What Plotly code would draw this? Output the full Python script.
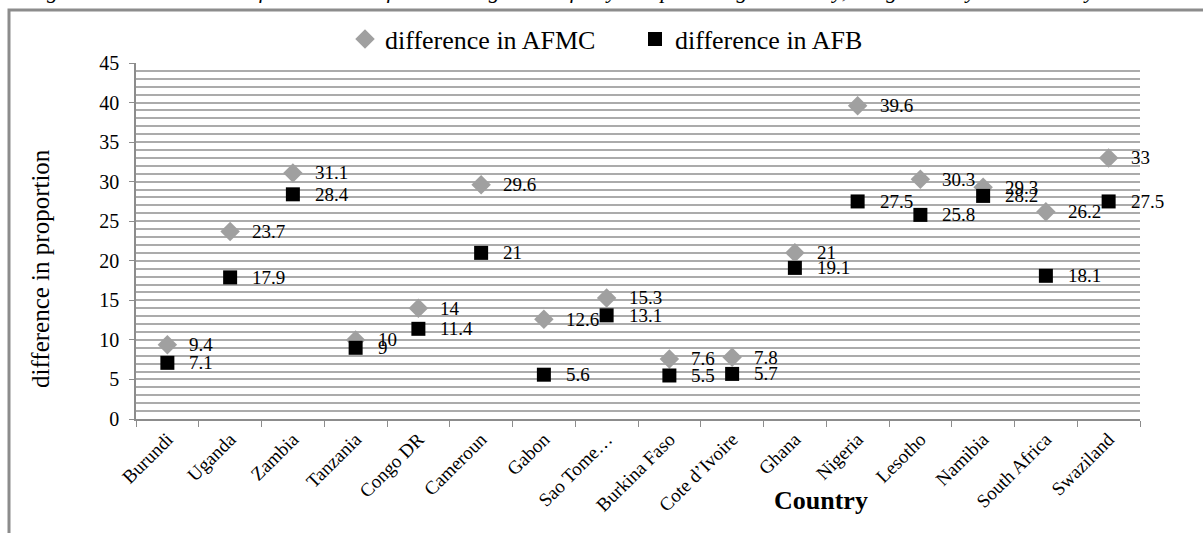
import plotly.graph_objects as go

countries = ["Burundi", "Uganda", "Zambia", "Tanzania", "Congo DR", "Cameroun", "Gabon",
             "Sao Tome…", "Burkina Faso", "Cote d’Ivoire", "Ghana", "Nigeria", "Lesotho",
             "Namibia", "South Africa", "Swaziland"]
afmc = [9.4, 23.7, 31.1, 10, 14, 29.6, 12.6, 15.3, 7.6, 7.8, 21, 39.6, 30.3, 29.3, 26.2, 33]
afb = [7.1, 17.9, 28.4, 9, 11.4, 21, 5.6, 13.1, 5.5, 5.7, 19.1, 27.5, 25.8, 28.2, 18.1, 27.5]

W, H = 1203, 533
L, R, T, B = 136, 1140, 63, 419
FONT = "Liberation Serif, Times New Roman, serif"

def px(xp):
    return (xp - L) / (R - L)

def py(yp):
    return (B - yp) / (B - T)

fig = go.Figure()
fig.add_trace(go.Scatter(x=countries, y=afmc, mode="markers", name="difference in AFMC",
                         marker=dict(symbol="diamond", size=15, color="#a0a0a0")))
fig.add_trace(go.Scatter(x=countries, y=afb, mode="markers", name="difference in AFB",
                         marker=dict(symbol="square", size=14, color="#000000")))

ann = []
for c, v in zip(countries, afmc):
    ann.append(dict(x=c, y=v, text=f"{v:g}", showarrow=False, xanchor="left", yanchor="middle",
                    xshift=20, font=dict(family=FONT, size=19, color="#000")))
for c, v in zip(countries, afb):
    ann.append(dict(x=c, y=v, text=f"{v:g}", showarrow=False, xanchor="left", yanchor="middle",
                    xshift=20, font=dict(family=FONT, size=19, color="#000")))

ann.append(dict(xref="paper", yref="paper", x=px(40), y=py(269), text="difference in proportion",
                textangle=-90, showarrow=False, xanchor="center", yanchor="middle",
                font=dict(family=FONT, size=25, color="#000")))
ann.append(dict(xref="paper", yref="paper", x=px(821), y=py(500), text="<b>Country</b>",
                showarrow=False, xanchor="center", yanchor="middle",
                font=dict(family=FONT, size=26, color="#000")))
ann.append(dict(xref="paper", yref="paper", x=px(-4), y=py(-9),
                text="<i>among women who had their first birth and first marriage in the five years preceding the survey, at ages ≥ 15 years and 49 years.</i>",
                showarrow=False, xanchor="left", yanchor="middle",
                font=dict(family=FONT, size=22, color="#000")))

shapes = [dict(type="rect", xref="paper", yref="paper", x0=px(9), x1=px(1215), y0=py(545), y1=py(10),
               line=dict(color="#8c8c8c", width=3), layer="below")]

fig.update_layout(
    width=W, height=H,
    margin=dict(l=L, r=W - R, t=T, b=H - B, autoexpand=False),
    paper_bgcolor="white", plot_bgcolor="white",
    showlegend=True,
    legend=dict(orientation="h", xref="container", yref="container", x=345 / W, xanchor="left",
                y=1 - 39 / H, yanchor="middle", font=dict(family=FONT, size=26, color="#000"),
                itemwidth=30, entrywidth=245, tracegroupgap=0, bgcolor="rgba(0,0,0,0)"),
    annotations=ann,
    shapes=shapes,
    font=dict(family=FONT, color="#000"),
)
fig.update_yaxes(range=[0, 45], dtick=5, tick0=0, showgrid=True, gridcolor="#ababab", gridwidth=1.5,
                 minor=dict(dtick=1, showgrid=True, gridcolor="#ababab", gridwidth=1.5),
                 showline=True, linecolor="#8c8c8c", linewidth=1.5,
                 ticks="outside", ticklen=5, tickcolor="#8c8c8c", ticklabelstandoff=6,
                 tickfont=dict(family=FONT, size=20, color="#000"), zeroline=False, fixedrange=True,
                 automargin=False)
fig.update_xaxes(type="category", range=[-0.5, 15.5], showgrid=False,
                 showline=True, linecolor="#8c8c8c", linewidth=1.5,
                 ticks="outside", ticklen=6, tickcolor="#8c8c8c", tickson="boundaries",
                 tickangle=-45, tickfont=dict(family=FONT, size=19, color="#000"), automargin=False)

fig.write_html("out.html")
